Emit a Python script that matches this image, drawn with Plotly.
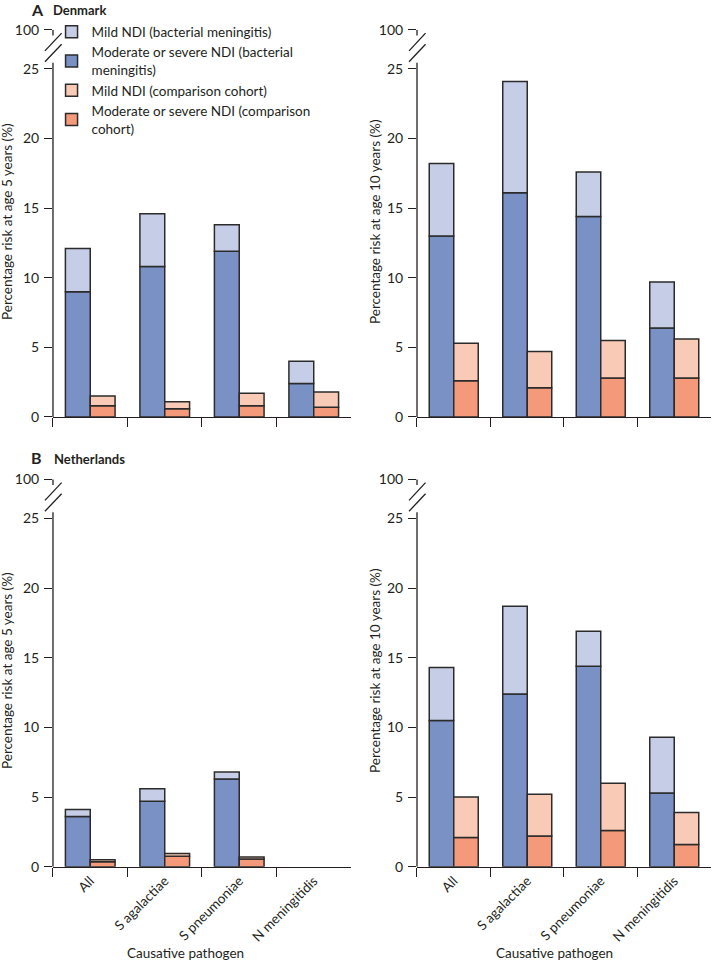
import plotly.graph_objects as go

cats = ["All", "S agalactiae", "S pneumoniae", "N meningitidis"]
series_names = ["Mild NDI (bacterial meningitis)",
                "Moderate or severe NDI (bacterial<br>meningitis)",
                "Mild NDI (comparison cohort)",
                "Moderate or severe NDI (comparison<br>cohort)"]

# Denmark, 5 years
dk5_bm_mod = [9.0, 10.8, 11.9, 2.4]
dk5_bm_tot = [12.1, 14.6, 13.8, 4.0]
dk5_cc_mod = [0.8, 0.6, 0.8, 0.7]
dk5_cc_tot = [1.5, 1.1, 1.7, 1.8]
# Denmark, 10 years
dk10_bm_mod = [13.0, 16.1, 14.4, 6.4]
dk10_bm_tot = [18.2, 24.1, 17.6, 9.7]
dk10_cc_mod = [2.6, 2.1, 2.8, 2.8]
dk10_cc_tot = [5.3, 4.7, 5.5, 5.6]
# Netherlands, 5 years
nl5_bm_mod = [3.6, 4.7, 6.3, None]
nl5_bm_tot = [4.1, 5.6, 6.8, None]
nl5_cc_mod = [0.35, 0.75, 0.55, None]
nl5_cc_tot = [0.5, 0.95, 0.7, None]
# Netherlands, 10 years
nl10_bm_mod = [10.5, 12.4, 14.4, 5.3]
nl10_bm_tot = [14.3, 18.7, 16.9, 9.3]
nl10_cc_mod = [2.1, 2.2, 2.6, 1.6]
nl10_cc_tot = [5.0, 5.2, 6.0, 3.9]

ytick_vals = [0, 5, 10, 15, 20, 25, 27.8]
ytick_text = ["0", "5", "10", "15", "20", "25", "100"]

C_MILD_BM = "#c6cde6"
C_MOD_BM = "#7a91c5"
C_MILD_CC = "#f9cab5"
C_MOD_CC = "#f49a7b"
EDGE = "#2b2b2b"
TXT = "#231f20"
FONT = "Lato"

fig = go.Figure()

panels = [
    ("x", "y", dk5_bm_mod, dk5_bm_tot, dk5_cc_mod, dk5_cc_tot, True),
    ("x2", "y2", dk10_bm_mod, dk10_bm_tot, dk10_cc_mod, dk10_cc_tot, False),
    ("x3", "y3", nl5_bm_mod, nl5_bm_tot, nl5_cc_mod, nl5_cc_tot, False),
    ("x4", "y4", nl10_bm_mod, nl10_bm_tot, nl10_cc_mod, nl10_cc_tot, False),
]

def diff(tot, mod):
    return [None if (t is None or m is None) else t - m for t, m in zip(tot, mod)]

for xa, ya, bm_mod, bm_tot, cc_mod, cc_tot, show in panels:
    specs = [
        (series_names[1], bm_mod, None, C_MOD_BM, -1/3, 1),
        (series_names[0], diff(bm_tot, bm_mod), bm_mod, C_MILD_BM, -1/3, 0),
        (series_names[3], cc_mod, None, C_MOD_CC, 0, 3),
        (series_names[2], diff(cc_tot, cc_mod), cc_mod, C_MILD_CC, 0, 2),
    ]
    for name, yv, base, col, off, rank in specs:
        fig.add_trace(go.Bar(
            x=cats, y=yv, base=base, name=name, xaxis=xa, yaxis=ya,
            width=1/3, offset=off, marker=dict(color=col, line=dict(color=EDGE, width=1.5)),
            showlegend=show, legendrank=rank, hoverinfo="skip",
        ))

xd_left = [0.0740, 0.4902]
xd_right = [0.5824, 0.9930]
yd_top = [0.5670, 0.9718]
yd_bot = [0.1000, 0.5050]

def xax(domain, anchor, labels):
    return dict(domain=domain, anchor=anchor, type="category", tickson="boundaries",
                showline=True, linecolor=TXT, linewidth=1.3, ticks="outside",
                ticklen=9, tickwidth=1.3, tickcolor=TXT, showgrid=False,
                showticklabels=labels, tickangle=-45, automargin=False,
                tickfont=dict(family=FONT, size=13.5, color=TXT),
                range=[-0.5, 3.5], fixedrange=True)

def yax(domain, anchor):
    return dict(domain=domain, anchor=anchor, range=[0, 28], showline=False,
                tickvals=ytick_vals, ticktext=ytick_text, ticks="outside",
                ticklen=8, tickwidth=1.3, tickcolor=TXT, showgrid=False, zeroline=False,
                automargin=False, fixedrange=True,
                tickfont=dict(family=FONT, size=14, color=TXT), ticklabelstandoff=2)

fig.update_layout(
    width=716, height=963, margin=dict(l=0, r=0, t=0, b=0, autoexpand=False),
    paper_bgcolor="white", plot_bgcolor="white", barmode="overlay",
    font=dict(family=FONT, color=TXT),
    xaxis=xax(xd_left, "y", False), yaxis=yax(yd_top, "x"),
    xaxis2=xax(xd_right, "y2", False), yaxis2=yax(yd_top, "x2"),
    xaxis3=xax(xd_left, "y3", True), yaxis3=yax(yd_bot, "x3"),
    xaxis4=xax(xd_right, "y4", True), yaxis4=yax(yd_bot, "x4"),
    legend=dict(x=0.072, y=0.983, xanchor="left", yanchor="top",
                font=dict(family=FONT, size=13.5, color=TXT), bgcolor="rgba(0,0,0,0)",
                traceorder="normal", itemwidth=30, tracegroupgap=0),
)

# broken-axis lines and slashes
shapes = []
for n in ["", "2", "3", "4"]:
    xr = "x%s domain" % n
    yr = "y%s" % n
    ln = dict(color=TXT, width=1.3)
    shapes.append(dict(type="line", xref=xr, yref=yr, x0=0, x1=0, y0=0, y1=25.45, line=ln))
    shapes.append(dict(type="line", xref=xr, yref=yr, x0=0, x1=0, y0=27.4, y1=27.8, line=ln))
    shapes.append(dict(type="line", xref=xr, yref=yr, x0=-0.027, x1=0.029, y0=26.3, y1=27.57, line=ln))
    shapes.append(dict(type="line", xref=xr, yref=yr, x0=-0.027, x1=0.029, y0=25.52, y1=26.77, line=ln))
fig.update_layout(shapes=shapes)

ann = []
def add_text(x, y, text, size=13, angle=0, xanchor="center"):
    ann.append(dict(x=x / 716, y=1 - y / 963, xref="paper", yref="paper", text=text,
                    showarrow=False, textangle=angle, xanchor=xanchor, yanchor="middle",
                    font=dict(family=FONT, size=size, color=TXT)))

add_text(29, 9, "<b>A</b>", size=16, xanchor="left")
add_text(51, 10, "<b>Denmark</b>", size=13, xanchor="left")
add_text(29, 457, "<b>B</b>", size=16, xanchor="left")
add_text(52, 459, "<b>Netherlands</b>", size=13, xanchor="left")
add_text(7, 222, "Percentage risk at age 5 years (%)", size=13.5, angle=-90)
add_text(375, 222, "Percentage risk at age 10 years (%)", size=13.5, angle=-90)
add_text(7, 671, "Percentage risk at age 5 years (%)", size=13.5, angle=-90)
add_text(375, 671, "Percentage risk at age 10 years (%)", size=13.5, angle=-90)
add_text(185, 953, "Causative pathogen", size=13.5)
add_text(554, 953, "Causative pathogen", size=13.5)
fig.update_layout(annotations=ann)

fig.write_html("out.html", config={"displayModeBar": False},
               post_script="document.body.style.margin='0';")
